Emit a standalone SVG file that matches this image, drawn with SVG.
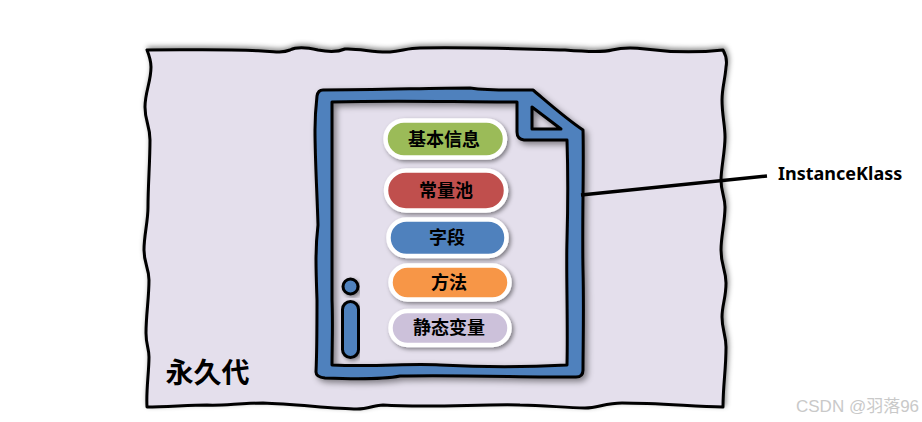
<svg xmlns="http://www.w3.org/2000/svg" width="922" height="422" viewBox="0 0 922 422">
<style>
.ink{stroke:#000;stroke-linejoin:round;stroke-linecap:round}
.pill{stroke:#fff;stroke-width:4.5;filter:url(#ps)}
.lbl{font-family:"Noto Sans CJK SC","Noto Sans",sans-serif;font-weight:700;font-size:18px;fill:#000;text-anchor:middle}
</style>
<defs>
<filter id="os" x="-5%" y="-8%" width="110%" height="116%"><feDropShadow dx="1.500" dy="-2" stdDeviation="2.500" flood-color="#000" flood-opacity=".45"/></filter>
<filter id="ds" x="-5%" y="-5%" width="112%" height="112%"><feDropShadow dx="3" dy="3" stdDeviation="3" flood-color="#000" flood-opacity=".45"/></filter>
<filter id="ps" x="-8%" y="-20%" width="116%" height="145%"><feDropShadow dx="2" dy="2" stdDeviation="2" flood-color="#000" flood-opacity=".45"/></filter>
</defs>
<rect width="922" height="422" fill="#fff"/>
<g id="permgen">
<path class="ink" filter="url(#os)" fill="#E4DFEC" stroke-width="3" d="M147 50C190 50 235 49 262 51C275 52 283 53 290 50C296 47 305 47 318 50C328 52 338 52 345 49C358 48 375 53 390 52C402 51 408 48 420 48C470 47 520 49 565 50C590 52 605 52 612 50C620 48 630 47 645 49C668 52 695 53 723 50C727 57 727 62 726 67C725 80 722 88 722 100C722 115 725 125 725 137C725 152 721 168 721 180C721 192 725 197 725 207C725 222 721 236 721 250C721 266 726 270 726 283C726 298 722 305 722 317C722 330 726 335 726 347C726 370 723 385 723 407C690 406 655 403 622 403C605 403 598 408 585 408C565 408 545 405 520 405C480 404 430 408 383 405C375 405 368 409 357 409C335 409 295 404 263 403C240 403 222 406 207 405C190 405 165 407 147 407C146 390 149 372 149 357C149 348 146 345 146 333C146 315 149 298 149 280C149 268 144 264 144 250C144 235 148 222 148 207C148 185 150 162 150 140C150 125 145 122 145 107C145 92 151 82 151 67C151 60 149 55 147 50Z"/>
<text x="207.500" y="383" font-family="'Noto Sans CJK SC',sans-serif" font-weight="700" font-size="28" text-anchor="middle" fill="#000">永久代</text>
</g>
<g id="instance-klass">
<path class="ink" filter="url(#ds)" fill="#4F81BD" fill-rule="evenodd" stroke-width="3" d="M323 90C380 90 430 88 470 88C490 91 510 90 533 90C545 100 565 118 583 130C584 170 582 220 583 270C584 310 583 345 583 370Q583 377 576 377C520 377 460 375 400 376C380 380 350 379 325 378Q316 377 316 372C317 350 317 330 317 300C316 270 315 250 318 225C317 190 315 160 315 130C315 115 316 105 317 96Q318 90 323 90ZM332 102L332 300C333 325 332 345 332 365C380 367 410 363 440 365C480 367 530 367 567 365C568 320 566 270 567 240C568 205 568 170 567 140L524 140Q517 139 517 132L517 102C450 102 400 100 332 102ZM532 107L532 129L561 129Z"/>
<circle class="ink" cx="350.500" cy="286.500" r="7.500" fill="#4F81BD" stroke-width="3" filter="url(#ps)"/>
<rect class="ink" x="342.500" y="301.500" width="16" height="56" rx="8" fill="#4F81BD" stroke-width="3" filter="url(#ps)"/>
</g>
<g id="basic-info"><rect class="pill" x="385.500" y="120.500" width="119.500" height="37" rx="18.500" fill="#9BBB59"/><text class="lbl" x="444" y="146">基本信息</text></g>
<g id="constant-pool"><rect class="pill" x="386" y="170.500" width="120" height="40" rx="20" fill="#C0504D"/><text class="lbl" x="446" y="197">常量池</text></g>
<g id="fields"><rect class="pill" x="388.500" y="219.500" width="118" height="36.500" rx="18" fill="#4F81BD"/><text class="lbl" x="447" y="244">字段</text></g>
<g id="methods"><rect class="pill" x="390.500" y="265.500" width="119" height="34" rx="17" fill="#F79646"/><text class="lbl" x="449" y="289">方法</text></g>
<g id="static-vars"><rect class="pill" x="390.500" y="311" width="119" height="34" rx="17" fill="#CCC1DA"/><text class="lbl" x="449" y="334">静态变量</text></g>
<g id="connectors"><path d="M581 195L767 176" stroke="#000" stroke-width="3.500" fill="none"/></g>
<g id="label"><text x="778" y="180" font-family="'Noto Sans',sans-serif" font-weight="700" font-size="18" fill="#000">InstanceKlass</text></g>
<g id="watermark"><text x="796" y="412" font-family="'Liberation Sans','Noto Sans CJK SC',sans-serif" font-size="17" fill="#c9c9c9">CSDN @羽落96</text></g>
</svg>
